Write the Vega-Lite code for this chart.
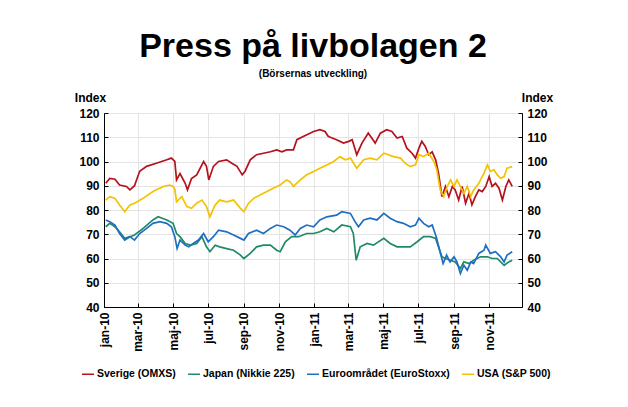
{
"$schema": "https://vega.github.io/schema/vega-lite/v6.json",
"width": 418, "height": 194,
"autosize": {"type": "none"},
"padding": {"left": 104, "top": 113, "right": 106, "bottom": 100},
"background": "white",
"config": {"font": "Liberation Sans", "view": {"stroke": null}},
"title": {"text": "Press på livbolagen 2", "subtitle": "(Börsernas utveckling)", "fontSize": 34, "fontWeight": "bold", "color": "black", "subtitleFontSize": 10, "subtitleFontWeight": "bold", "subtitleColor": "black", "subtitlePadding": 5, "anchor": "middle", "offset": 12},
"data": {"values": [
{"s":"Sverige (OMXS)","d":"2010-01-04","v":91},
{"s":"Sverige (OMXS)","d":"2010-01-11","v":93},
{"s":"Sverige (OMXS)","d":"2010-01-20","v":92.7},
{"s":"Sverige (OMXS)","d":"2010-01-28","v":90.3},
{"s":"Sverige (OMXS)","d":"2010-02-09","v":89.7},
{"s":"Sverige (OMXS)","d":"2010-02-15","v":88.3},
{"s":"Sverige (OMXS)","d":"2010-02-23","v":90},
{"s":"Sverige (OMXS)","d":"2010-03-01","v":94},
{"s":"Sverige (OMXS)","d":"2010-03-04","v":96},
{"s":"Sverige (OMXS)","d":"2010-03-16","v":98},
{"s":"Sverige (OMXS)","d":"2010-04-02","v":99.3},
{"s":"Sverige (OMXS)","d":"2010-04-20","v":100.7},
{"s":"Sverige (OMXS)","d":"2010-04-28","v":101.4},
{"s":"Sverige (OMXS)","d":"2010-05-04","v":100},
{"s":"Sverige (OMXS)","d":"2010-05-07","v":92.4},
{"s":"Sverige (OMXS)","d":"2010-05-13","v":95},
{"s":"Sverige (OMXS)","d":"2010-05-22","v":91},
{"s":"Sverige (OMXS)","d":"2010-05-26","v":88.3},
{"s":"Sverige (OMXS)","d":"2010-06-02","v":93},
{"s":"Sverige (OMXS)","d":"2010-06-11","v":94.5},
{"s":"Sverige (OMXS)","d":"2010-06-23","v":100},
{"s":"Sverige (OMXS)","d":"2010-06-28","v":98},
{"s":"Sverige (OMXS)","d":"2010-07-02","v":92.4},
{"s":"Sverige (OMXS)","d":"2010-07-10","v":98},
{"s":"Sverige (OMXS)","d":"2010-07-19","v":100},
{"s":"Sverige (OMXS)","d":"2010-08-02","v":100.7},
{"s":"Sverige (OMXS)","d":"2010-08-11","v":99.3},
{"s":"Sverige (OMXS)","d":"2010-08-20","v":98},
{"s":"Sverige (OMXS)","d":"2010-08-29","v":94.5},
{"s":"Sverige (OMXS)","d":"2010-09-03","v":96},
{"s":"Sverige (OMXS)","d":"2010-09-12","v":100.7},
{"s":"Sverige (OMXS)","d":"2010-09-23","v":102.8},
{"s":"Sverige (OMXS)","d":"2010-10-05","v":103.4},
{"s":"Sverige (OMXS)","d":"2010-10-17","v":104},
{"s":"Sverige (OMXS)","d":"2010-10-28","v":104.8},
{"s":"Sverige (OMXS)","d":"2010-11-06","v":104},
{"s":"Sverige (OMXS)","d":"2010-11-14","v":104.8},
{"s":"Sverige (OMXS)","d":"2010-11-26","v":104.8},
{"s":"Sverige (OMXS)","d":"2010-12-02","v":109},
{"s":"Sverige (OMXS)","d":"2010-12-13","v":110.3},
{"s":"Sverige (OMXS)","d":"2010-12-31","v":112.4},
{"s":"Sverige (OMXS)","d":"2011-01-11","v":113.1},
{"s":"Sverige (OMXS)","d":"2011-01-20","v":112.4},
{"s":"Sverige (OMXS)","d":"2011-01-25","v":110.5},
{"s":"Sverige (OMXS)","d":"2011-01-29","v":110},
{"s":"Sverige (OMXS)","d":"2011-02-09","v":109},
{"s":"Sverige (OMXS)","d":"2011-02-21","v":107.6},
{"s":"Sverige (OMXS)","d":"2011-03-02","v":108.3},
{"s":"Sverige (OMXS)","d":"2011-03-08","v":109},
{"s":"Sverige (OMXS)","d":"2011-03-16","v":102.8},
{"s":"Sverige (OMXS)","d":"2011-03-25","v":107.6},
{"s":"Sverige (OMXS)","d":"2011-04-05","v":111.7},
{"s":"Sverige (OMXS)","d":"2011-04-17","v":107.6},
{"s":"Sverige (OMXS)","d":"2011-04-26","v":111.7},
{"s":"Sverige (OMXS)","d":"2011-05-07","v":113.1},
{"s":"Sverige (OMXS)","d":"2011-05-16","v":112.4},
{"s":"Sverige (OMXS)","d":"2011-05-25","v":109.7},
{"s":"Sverige (OMXS)","d":"2011-06-03","v":110.3},
{"s":"Sverige (OMXS)","d":"2011-06-11","v":105.5},
{"s":"Sverige (OMXS)","d":"2011-06-20","v":103.4},
{"s":"Sverige (OMXS)","d":"2011-06-26","v":101.4},
{"s":"Sverige (OMXS)","d":"2011-07-02","v":105.5},
{"s":"Sverige (OMXS)","d":"2011-07-07","v":108.3},
{"s":"Sverige (OMXS)","d":"2011-07-13","v":106.2},
{"s":"Sverige (OMXS)","d":"2011-07-19","v":102.8},
{"s":"Sverige (OMXS)","d":"2011-07-25","v":104},
{"s":"Sverige (OMXS)","d":"2011-07-31","v":100.7},
{"s":"Sverige (OMXS)","d":"2011-08-05","v":95.2},
{"s":"Sverige (OMXS)","d":"2011-08-11","v":85.5},
{"s":"Sverige (OMXS)","d":"2011-08-17","v":89.7},
{"s":"Sverige (OMXS)","d":"2011-08-23","v":85.5},
{"s":"Sverige (OMXS)","d":"2011-08-29","v":89.7},
{"s":"Sverige (OMXS)","d":"2011-09-03","v":88.3},
{"s":"Sverige (OMXS)","d":"2011-09-09","v":84.1},
{"s":"Sverige (OMXS)","d":"2011-09-15","v":89.7},
{"s":"Sverige (OMXS)","d":"2011-09-21","v":82.8},
{"s":"Sverige (OMXS)","d":"2011-09-27","v":86.9},
{"s":"Sverige (OMXS)","d":"2011-10-02","v":82.1},
{"s":"Sverige (OMXS)","d":"2011-10-08","v":85.5},
{"s":"Sverige (OMXS)","d":"2011-10-14","v":88.3},
{"s":"Sverige (OMXS)","d":"2011-10-20","v":87.6},
{"s":"Sverige (OMXS)","d":"2011-10-26","v":89.7},
{"s":"Sverige (OMXS)","d":"2011-11-01","v":93.8},
{"s":"Sverige (OMXS)","d":"2011-11-06","v":89.7},
{"s":"Sverige (OMXS)","d":"2011-11-12","v":91},
{"s":"Sverige (OMXS)","d":"2011-11-18","v":89},
{"s":"Sverige (OMXS)","d":"2011-11-24","v":84.1},
{"s":"Sverige (OMXS)","d":"2011-11-30","v":89.7},
{"s":"Sverige (OMXS)","d":"2011-12-05","v":92.4},
{"s":"Sverige (OMXS)","d":"2011-12-11","v":89.7},
{"s":"Japan (Nikkie 225)","d":"2010-01-04","v":73.1},
{"s":"Japan (Nikkie 225)","d":"2010-01-11","v":74.5},
{"s":"Japan (Nikkie 225)","d":"2010-01-20","v":73.1},
{"s":"Japan (Nikkie 225)","d":"2010-01-28","v":71},
{"s":"Japan (Nikkie 225)","d":"2010-02-06","v":68.3},
{"s":"Japan (Nikkie 225)","d":"2010-02-15","v":69},
{"s":"Japan (Nikkie 225)","d":"2010-02-23","v":69.7},
{"s":"Japan (Nikkie 225)","d":"2010-03-10","v":72.4},
{"s":"Japan (Nikkie 225)","d":"2010-03-27","v":75.9},
{"s":"Japan (Nikkie 225)","d":"2010-04-05","v":77.2},
{"s":"Japan (Nikkie 225)","d":"2010-04-20","v":75.9},
{"s":"Japan (Nikkie 225)","d":"2010-05-01","v":74.5},
{"s":"Japan (Nikkie 225)","d":"2010-05-07","v":70.3},
{"s":"Japan (Nikkie 225)","d":"2010-05-13","v":69},
{"s":"Japan (Nikkie 225)","d":"2010-05-22","v":66.2},
{"s":"Japan (Nikkie 225)","d":"2010-05-31","v":65.5},
{"s":"Japan (Nikkie 225)","d":"2010-06-11","v":66.2},
{"s":"Japan (Nikkie 225)","d":"2010-06-20","v":69},
{"s":"Japan (Nikkie 225)","d":"2010-06-28","v":64.8},
{"s":"Japan (Nikkie 225)","d":"2010-07-04","v":62.8},
{"s":"Japan (Nikkie 225)","d":"2010-07-13","v":65.5},
{"s":"Japan (Nikkie 225)","d":"2010-07-21","v":64.8},
{"s":"Japan (Nikkie 225)","d":"2010-08-02","v":64.1},
{"s":"Japan (Nikkie 225)","d":"2010-08-14","v":63.4},
{"s":"Japan (Nikkie 225)","d":"2010-08-26","v":61.4},
{"s":"Japan (Nikkie 225)","d":"2010-09-01","v":60},
{"s":"Japan (Nikkie 225)","d":"2010-09-12","v":62.1},
{"s":"Japan (Nikkie 225)","d":"2010-09-23","v":64.8},
{"s":"Japan (Nikkie 225)","d":"2010-10-05","v":65.5},
{"s":"Japan (Nikkie 225)","d":"2010-10-17","v":65.5},
{"s":"Japan (Nikkie 225)","d":"2010-10-28","v":63.4},
{"s":"Japan (Nikkie 225)","d":"2010-11-03","v":62.8},
{"s":"Japan (Nikkie 225)","d":"2010-11-12","v":66.9},
{"s":"Japan (Nikkie 225)","d":"2010-11-23","v":69},
{"s":"Japan (Nikkie 225)","d":"2010-12-05","v":69},
{"s":"Japan (Nikkie 225)","d":"2010-12-19","v":70.3},
{"s":"Japan (Nikkie 225)","d":"2010-12-31","v":70.3},
{"s":"Japan (Nikkie 225)","d":"2011-01-11","v":71},
{"s":"Japan (Nikkie 225)","d":"2011-01-23","v":72.4},
{"s":"Japan (Nikkie 225)","d":"2011-02-04","v":71},
{"s":"Japan (Nikkie 225)","d":"2011-02-18","v":73.8},
{"s":"Japan (Nikkie 225)","d":"2011-03-05","v":73.1},
{"s":"Japan (Nikkie 225)","d":"2011-03-10","v":70.3},
{"s":"Japan (Nikkie 225)","d":"2011-03-15","v":59.3},
{"s":"Japan (Nikkie 225)","d":"2011-03-22","v":64.8},
{"s":"Japan (Nikkie 225)","d":"2011-04-03","v":66.2},
{"s":"Japan (Nikkie 225)","d":"2011-04-14","v":65.5},
{"s":"Japan (Nikkie 225)","d":"2011-05-02","v":68.3},
{"s":"Japan (Nikkie 225)","d":"2011-05-13","v":66.2},
{"s":"Japan (Nikkie 225)","d":"2011-05-25","v":64.8},
{"s":"Japan (Nikkie 225)","d":"2011-06-05","v":64.8},
{"s":"Japan (Nikkie 225)","d":"2011-06-17","v":64.8},
{"s":"Japan (Nikkie 225)","d":"2011-06-29","v":66.9},
{"s":"Japan (Nikkie 225)","d":"2011-07-10","v":69},
{"s":"Japan (Nikkie 225)","d":"2011-07-22","v":69},
{"s":"Japan (Nikkie 225)","d":"2011-07-31","v":68.3},
{"s":"Japan (Nikkie 225)","d":"2011-08-05","v":64.8},
{"s":"Japan (Nikkie 225)","d":"2011-08-11","v":60.7},
{"s":"Japan (Nikkie 225)","d":"2011-08-17","v":60},
{"s":"Japan (Nikkie 225)","d":"2011-08-26","v":59.3},
{"s":"Japan (Nikkie 225)","d":"2011-09-03","v":58.6},
{"s":"Japan (Nikkie 225)","d":"2011-09-12","v":55.9},
{"s":"Japan (Nikkie 225)","d":"2011-09-18","v":58.6},
{"s":"Japan (Nikkie 225)","d":"2011-09-27","v":57.9},
{"s":"Japan (Nikkie 225)","d":"2011-10-05","v":59.3},
{"s":"Japan (Nikkie 225)","d":"2011-10-17","v":60.7},
{"s":"Japan (Nikkie 225)","d":"2011-10-29","v":60.7},
{"s":"Japan (Nikkie 225)","d":"2011-11-06","v":60},
{"s":"Japan (Nikkie 225)","d":"2011-11-15","v":60},
{"s":"Japan (Nikkie 225)","d":"2011-11-27","v":57.2},
{"s":"Japan (Nikkie 225)","d":"2011-12-05","v":58.6},
{"s":"Japan (Nikkie 225)","d":"2011-12-11","v":59.3},
{"s":"Euroområdet (EuroStoxx)","d":"2010-01-04","v":75.9},
{"s":"Euroområdet (EuroStoxx)","d":"2010-01-11","v":75.2},
{"s":"Euroområdet (EuroStoxx)","d":"2010-01-20","v":73.8},
{"s":"Euroområdet (EuroStoxx)","d":"2010-01-28","v":70.3},
{"s":"Euroområdet (EuroStoxx)","d":"2010-02-06","v":67.6},
{"s":"Euroområdet (EuroStoxx)","d":"2010-02-15","v":69},
{"s":"Euroområdet (EuroStoxx)","d":"2010-02-23","v":67.6},
{"s":"Euroområdet (EuroStoxx)","d":"2010-03-04","v":70.3},
{"s":"Euroområdet (EuroStoxx)","d":"2010-03-16","v":72.4},
{"s":"Euroområdet (EuroStoxx)","d":"2010-03-27","v":74.5},
{"s":"Euroområdet (EuroStoxx)","d":"2010-04-08","v":75.2},
{"s":"Euroområdet (EuroStoxx)","d":"2010-04-20","v":74.5},
{"s":"Euroområdet (EuroStoxx)","d":"2010-04-28","v":73.1},
{"s":"Euroområdet (EuroStoxx)","d":"2010-05-04","v":69},
{"s":"Euroområdet (EuroStoxx)","d":"2010-05-08","v":64.1},
{"s":"Euroområdet (EuroStoxx)","d":"2010-05-13","v":67.6},
{"s":"Euroområdet (EuroStoxx)","d":"2010-05-22","v":65.5},
{"s":"Euroområdet (EuroStoxx)","d":"2010-05-28","v":64.8},
{"s":"Euroområdet (EuroStoxx)","d":"2010-06-05","v":66.2},
{"s":"Euroområdet (EuroStoxx)","d":"2010-06-14","v":67.6},
{"s":"Euroområdet (EuroStoxx)","d":"2010-06-23","v":70.3},
{"s":"Euroområdet (EuroStoxx)","d":"2010-07-01","v":66.9},
{"s":"Euroområdet (EuroStoxx)","d":"2010-07-10","v":69},
{"s":"Euroområdet (EuroStoxx)","d":"2010-07-19","v":71.7},
{"s":"Euroområdet (EuroStoxx)","d":"2010-08-02","v":71},
{"s":"Euroområdet (EuroStoxx)","d":"2010-08-14","v":69.7},
{"s":"Euroområdet (EuroStoxx)","d":"2010-08-26","v":68.3},
{"s":"Euroområdet (EuroStoxx)","d":"2010-09-01","v":67.6},
{"s":"Euroområdet (EuroStoxx)","d":"2010-09-09","v":70.3},
{"s":"Euroområdet (EuroStoxx)","d":"2010-09-23","v":71.7},
{"s":"Euroområdet (EuroStoxx)","d":"2010-10-05","v":70.3},
{"s":"Euroområdet (EuroStoxx)","d":"2010-10-17","v":72.4},
{"s":"Euroområdet (EuroStoxx)","d":"2010-10-28","v":73.8},
{"s":"Euroområdet (EuroStoxx)","d":"2010-11-09","v":73.1},
{"s":"Euroområdet (EuroStoxx)","d":"2010-11-20","v":71.7},
{"s":"Euroområdet (EuroStoxx)","d":"2010-11-29","v":69.7},
{"s":"Euroområdet (EuroStoxx)","d":"2010-12-08","v":72.4},
{"s":"Euroområdet (EuroStoxx)","d":"2010-12-19","v":73.8},
{"s":"Euroområdet (EuroStoxx)","d":"2010-12-31","v":73.1},
{"s":"Euroområdet (EuroStoxx)","d":"2011-01-11","v":75.9},
{"s":"Euroområdet (EuroStoxx)","d":"2011-01-23","v":77.2},
{"s":"Euroområdet (EuroStoxx)","d":"2011-02-09","v":77.9},
{"s":"Euroområdet (EuroStoxx)","d":"2011-02-18","v":79.3},
{"s":"Euroområdet (EuroStoxx)","d":"2011-03-05","v":78.6},
{"s":"Euroområdet (EuroStoxx)","d":"2011-03-13","v":75.2},
{"s":"Euroområdet (EuroStoxx)","d":"2011-03-19","v":73.1},
{"s":"Euroområdet (EuroStoxx)","d":"2011-03-28","v":75.9},
{"s":"Euroområdet (EuroStoxx)","d":"2011-04-08","v":76.6},
{"s":"Euroområdet (EuroStoxx)","d":"2011-04-20","v":75.9},
{"s":"Euroområdet (EuroStoxx)","d":"2011-05-02","v":78.6},
{"s":"Euroområdet (EuroStoxx)","d":"2011-05-13","v":76.6},
{"s":"Euroområdet (EuroStoxx)","d":"2011-05-25","v":75.2},
{"s":"Euroområdet (EuroStoxx)","d":"2011-06-05","v":74.5},
{"s":"Euroområdet (EuroStoxx)","d":"2011-06-17","v":73.1},
{"s":"Euroområdet (EuroStoxx)","d":"2011-06-26","v":73.8},
{"s":"Euroområdet (EuroStoxx)","d":"2011-07-02","v":76.6},
{"s":"Euroområdet (EuroStoxx)","d":"2011-07-10","v":74.5},
{"s":"Euroområdet (EuroStoxx)","d":"2011-07-19","v":73.1},
{"s":"Euroområdet (EuroStoxx)","d":"2011-07-25","v":73.8},
{"s":"Euroområdet (EuroStoxx)","d":"2011-08-01","v":69},
{"s":"Euroområdet (EuroStoxx)","d":"2011-08-07","v":63.4},
{"s":"Euroområdet (EuroStoxx)","d":"2011-08-13","v":57.9},
{"s":"Euroområdet (EuroStoxx)","d":"2011-08-19","v":61.4},
{"s":"Euroområdet (EuroStoxx)","d":"2011-08-25","v":58.6},
{"s":"Euroområdet (EuroStoxx)","d":"2011-09-01","v":60.7},
{"s":"Euroområdet (EuroStoxx)","d":"2011-09-06","v":58.6},
{"s":"Euroområdet (EuroStoxx)","d":"2011-09-12","v":53.8},
{"s":"Euroområdet (EuroStoxx)","d":"2011-09-18","v":57.2},
{"s":"Euroområdet (EuroStoxx)","d":"2011-09-24","v":55.2},
{"s":"Euroområdet (EuroStoxx)","d":"2011-09-30","v":58.6},
{"s":"Euroområdet (EuroStoxx)","d":"2011-10-05","v":57.9},
{"s":"Euroområdet (EuroStoxx)","d":"2011-10-14","v":62.1},
{"s":"Euroområdet (EuroStoxx)","d":"2011-10-23","v":63.4},
{"s":"Euroområdet (EuroStoxx)","d":"2011-10-26","v":65.5},
{"s":"Euroområdet (EuroStoxx)","d":"2011-11-03","v":62.1},
{"s":"Euroområdet (EuroStoxx)","d":"2011-11-12","v":62.8},
{"s":"Euroområdet (EuroStoxx)","d":"2011-11-21","v":60.7},
{"s":"Euroområdet (EuroStoxx)","d":"2011-11-27","v":58.6},
{"s":"Euroområdet (EuroStoxx)","d":"2011-12-02","v":61.4},
{"s":"Euroområdet (EuroStoxx)","d":"2011-12-11","v":62.8},
{"s":"USA (S&P 500)","d":"2010-01-04","v":84.1},
{"s":"USA (S&P 500)","d":"2010-01-11","v":85.5},
{"s":"USA (S&P 500)","d":"2010-01-20","v":84.8},
{"s":"USA (S&P 500)","d":"2010-01-28","v":82.1},
{"s":"USA (S&P 500)","d":"2010-02-06","v":79.3},
{"s":"USA (S&P 500)","d":"2010-02-15","v":82.1},
{"s":"USA (S&P 500)","d":"2010-02-23","v":82.8},
{"s":"USA (S&P 500)","d":"2010-03-10","v":84.8},
{"s":"USA (S&P 500)","d":"2010-03-27","v":87.6},
{"s":"USA (S&P 500)","d":"2010-04-14","v":89.7},
{"s":"USA (S&P 500)","d":"2010-04-25","v":90.3},
{"s":"USA (S&P 500)","d":"2010-05-01","v":89.7},
{"s":"USA (S&P 500)","d":"2010-05-04","v":88.5},
{"s":"USA (S&P 500)","d":"2010-05-07","v":83.4},
{"s":"USA (S&P 500)","d":"2010-05-16","v":85.5},
{"s":"USA (S&P 500)","d":"2010-05-25","v":81.4},
{"s":"USA (S&P 500)","d":"2010-06-02","v":80.7},
{"s":"USA (S&P 500)","d":"2010-06-11","v":82.8},
{"s":"USA (S&P 500)","d":"2010-06-20","v":84.1},
{"s":"USA (S&P 500)","d":"2010-06-28","v":81.4},
{"s":"USA (S&P 500)","d":"2010-07-04","v":77.2},
{"s":"USA (S&P 500)","d":"2010-07-13","v":82.1},
{"s":"USA (S&P 500)","d":"2010-07-21","v":84.1},
{"s":"USA (S&P 500)","d":"2010-08-02","v":83.4},
{"s":"USA (S&P 500)","d":"2010-08-14","v":84.1},
{"s":"USA (S&P 500)","d":"2010-08-26","v":80.7},
{"s":"USA (S&P 500)","d":"2010-09-01","v":79.3},
{"s":"USA (S&P 500)","d":"2010-09-09","v":82.8},
{"s":"USA (S&P 500)","d":"2010-09-18","v":84.8},
{"s":"USA (S&P 500)","d":"2010-09-29","v":86.2},
{"s":"USA (S&P 500)","d":"2010-10-11","v":87.6},
{"s":"USA (S&P 500)","d":"2010-10-22","v":89},
{"s":"USA (S&P 500)","d":"2010-11-03","v":90.3},
{"s":"USA (S&P 500)","d":"2010-11-14","v":92.4},
{"s":"USA (S&P 500)","d":"2010-11-20","v":91.7},
{"s":"USA (S&P 500)","d":"2010-11-26","v":89.7},
{"s":"USA (S&P 500)","d":"2010-12-08","v":92.4},
{"s":"USA (S&P 500)","d":"2010-12-19","v":94.5},
{"s":"USA (S&P 500)","d":"2010-12-31","v":95.9},
{"s":"USA (S&P 500)","d":"2011-01-11","v":97.2},
{"s":"USA (S&P 500)","d":"2011-01-23","v":98.6},
{"s":"USA (S&P 500)","d":"2011-02-04","v":100},
{"s":"USA (S&P 500)","d":"2011-02-15","v":102},
{"s":"USA (S&P 500)","d":"2011-02-24","v":100.7},
{"s":"USA (S&P 500)","d":"2011-03-05","v":101.4},
{"s":"USA (S&P 500)","d":"2011-03-16","v":97.2},
{"s":"USA (S&P 500)","d":"2011-03-28","v":100.7},
{"s":"USA (S&P 500)","d":"2011-04-08","v":101.4},
{"s":"USA (S&P 500)","d":"2011-04-20","v":100.7},
{"s":"USA (S&P 500)","d":"2011-05-02","v":103.4},
{"s":"USA (S&P 500)","d":"2011-05-10","v":102.8},
{"s":"USA (S&P 500)","d":"2011-05-19","v":102},
{"s":"USA (S&P 500)","d":"2011-05-31","v":101.4},
{"s":"USA (S&P 500)","d":"2011-06-08","v":99.3},
{"s":"USA (S&P 500)","d":"2011-06-17","v":97.9},
{"s":"USA (S&P 500)","d":"2011-06-26","v":98.6},
{"s":"USA (S&P 500)","d":"2011-07-02","v":102.8},
{"s":"USA (S&P 500)","d":"2011-07-10","v":102},
{"s":"USA (S&P 500)","d":"2011-07-19","v":103.4},
{"s":"USA (S&P 500)","d":"2011-07-28","v":100},
{"s":"USA (S&P 500)","d":"2011-08-02","v":96.6},
{"s":"USA (S&P 500)","d":"2011-08-08","v":88.3},
{"s":"USA (S&P 500)","d":"2011-08-14","v":85.5},
{"s":"USA (S&P 500)","d":"2011-08-20","v":89.7},
{"s":"USA (S&P 500)","d":"2011-08-26","v":92.4},
{"s":"USA (S&P 500)","d":"2011-09-01","v":89.7},
{"s":"USA (S&P 500)","d":"2011-09-06","v":92.4},
{"s":"USA (S&P 500)","d":"2011-09-12","v":89.7},
{"s":"USA (S&P 500)","d":"2011-09-18","v":86.9},
{"s":"USA (S&P 500)","d":"2011-09-24","v":89.7},
{"s":"USA (S&P 500)","d":"2011-09-30","v":85.5},
{"s":"USA (S&P 500)","d":"2011-10-05","v":88.3},
{"s":"USA (S&P 500)","d":"2011-10-14","v":91},
{"s":"USA (S&P 500)","d":"2011-10-23","v":95.2},
{"s":"USA (S&P 500)","d":"2011-10-29","v":98.6},
{"s":"USA (S&P 500)","d":"2011-11-03","v":95.9},
{"s":"USA (S&P 500)","d":"2011-11-09","v":96.6},
{"s":"USA (S&P 500)","d":"2011-11-15","v":94.5},
{"s":"USA (S&P 500)","d":"2011-11-21","v":93.1},
{"s":"USA (S&P 500)","d":"2011-11-27","v":93.8},
{"s":"USA (S&P 500)","d":"2011-12-02","v":97.2},
{"s":"USA (S&P 500)","d":"2011-12-11","v":97.9}
]},
"encoding": {
  "x": {"field": "d", "type": "temporal",
    "scale": {"type": "utc", "domain": [{"year": 2010, "month": 1, "date": 1, "utc": true}, {"year": 2011, "month": 12, "date": 28, "utc": true}]},
    "axis": {"title": null,
      "values": [{"year":2010,"month":1,"date":1,"utc":true},{"year":2010,"month":3,"date":1,"utc":true},{"year":2010,"month":5,"date":1,"utc":true},{"year":2010,"month":7,"date":1,"utc":true},{"year":2010,"month":9,"date":1,"utc":true},{"year":2010,"month":11,"date":1,"utc":true},{"year":2011,"month":1,"date":1,"utc":true},{"year":2011,"month":3,"date":1,"utc":true},{"year":2011,"month":5,"date":1,"utc":true},{"year":2011,"month":7,"date":1,"utc":true},{"year":2011,"month":9,"date":1,"utc":true},{"year":2011,"month":11,"date":1,"utc":true}],
      "labelExpr": "['jan','feb','mar','apr','maj','jun','jul','aug','sep','okt','nov','dec'][utcmonth(datum.value)] + '-' + utcFormat(datum.value, '%y')",
      "labelAngle": 270, "labelFontSize": 12, "labelFontWeight": "bold", "labelColor": "black",
      "labelPadding": 9, "tickSize": -4, "tickColor": "black", "domainColor": "black",
      "grid": true, "gridColor": "#e4e4e4", "labelFlush": false, "labelOverlap": false}
  }
},
"layer": [
  {"mark": {"type": "line", "strokeWidth": 1.7},
   "encoding": {
     "y": {"field": "v", "type": "quantitative", "scale": {"domain": [40, 120], "nice": false, "zero": false},
       "axis": {"orient": "left", "title": "Index", "titleAngle": 0, "titleX": -14, "titleY": -12, "titleAlign": "center", "titleBaseline": "alphabetic", "titleFontSize": 12, "titleFontWeight": "bold", "titleColor": "black",
         "values": [40,50,60,70,80,90,100,110,120], "labelFontSize": 12, "labelFontWeight": "bold", "labelColor": "black", "labelPadding": 9, "tickSize": -4, "tickColor": "black", "domainColor": "black", "grid": true, "gridColor": "#e4e4e4", "labelFlush": false}},
     "color": {"field": "s", "type": "nominal",
       "scale": {"domain": ["Sverige (OMXS)", "Japan (Nikkie 225)", "Euroområdet (EuroStoxx)", "USA (S&P 500)"], "range": ["#b5121e", "#1f8a68", "#1e6fc1", "#f3c200"]},
       "legend": {"title": null, "orient": "none", "direction": "horizontal", "legendX": -23, "legendY": 254, "symbolType": "stroke", "symbolSize": 144, "symbolStrokeWidth": 1.5, "labelFontSize": 10.5, "labelFontWeight": "bold", "labelColor": "black", "labelOffset": 2, "columnPadding": 9, "labelLimit": 300}}
   }},
  {"mark": {"type": "line", "strokeOpacity": 0},
   "encoding": {
     "detail": {"field": "s"},
     "y": {"field": "v", "type": "quantitative", "scale": {"domain": [40, 120], "nice": false, "zero": false},
       "axis": {"orient": "right", "title": "Index", "titleAngle": 0, "titleX": 15, "titleY": -12, "titleAlign": "center", "titleBaseline": "alphabetic", "titleFontSize": 12, "titleFontWeight": "bold", "titleColor": "black",
         "values": [40,50,60,70,80,90,100,110,120], "labelFontSize": 12, "labelFontWeight": "bold", "labelColor": "black", "labelPadding": 9, "tickSize": -4, "tickColor": "black", "domainColor": "black", "grid": false, "labelFlush": false}}
   }}
],
"resolve": {"scale": {"y": "independent"}}
}
